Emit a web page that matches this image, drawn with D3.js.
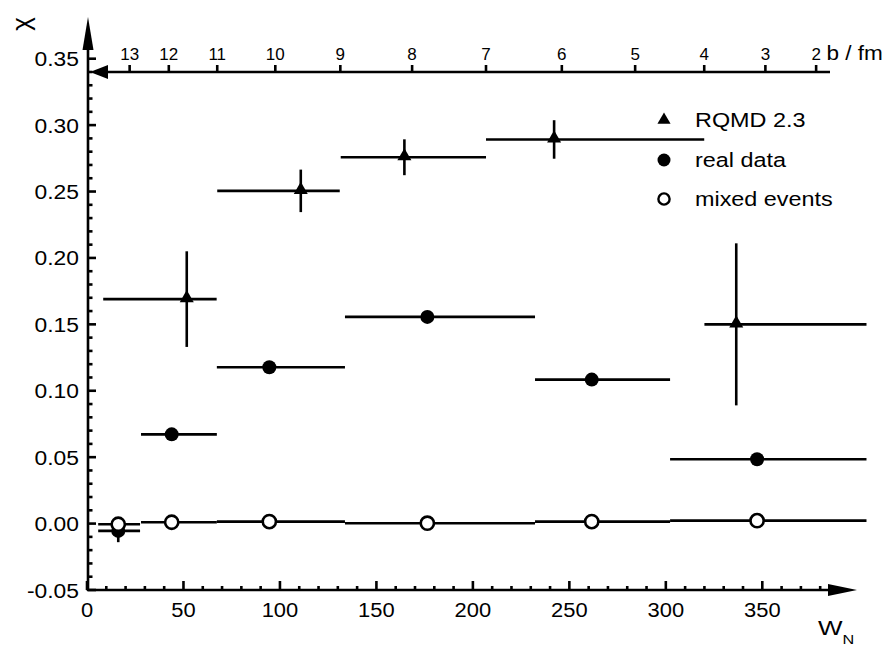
<!DOCTYPE html>
<html>
<head>
  <meta charset="UTF-8">
  <title>chi vs W_N</title>
  <script src="https://d3js.org/d3.v7.min.js"></script>
  <style>
    body { margin: 0; background: white; }
    text { font-family: "Liberation Sans", Arial, sans-serif; fill: black; }
  </style>
</head>
<body>
<svg></svg>
<script>
  let width = 886,
    height = 648;

  // RQMD 2.3 (triangles)
  let rqmdW = [51.7, 110.8, 164.5, 242.1, 336.5];
  let rqmdLo = [8.4, 67.5, 131.5, 206.8, 320.0];
  let rqmdHi = [67.2, 131.0, 206.8, 319.9, 404.0];
  let rqmdChi = [0.169, 0.2505, 0.2758, 0.2892, 0.150];
  let rqmdErr = [0.036, 0.016, 0.0135, 0.0145, 0.061];

  // real data (filled circles)
  let realW = [16.2, 43.9, 94.5, 176.4, 261.6, 347.3];
  let realLo = [5.8, 28.0, 67.3, 133.7, 232.2, 302.2];
  let realHi = [27.5, 67.3, 133.7, 232.2, 302.2, 404.0];
  let realChi = [-0.0055, 0.0672, 0.1177, 0.1556, 0.1084, 0.0484];
  let realErr = [0.0085, 0.003, 0.002, 0.002, 0.002, 0.002];

  // mixed events (open circles)
  let mixW = realW;
  let mixChi = [-0.0005, 0.001, 0.0015, 0.0003, 0.0015, 0.0022];

  // impact parameter axis: b values and where they sit on W_N
  let bTicks = [13, 12, 11, 10, 9, 8, 7, 6, 5, 4, 3, 2];
  let bTickW = [22.1, 42.4, 67.5, 97.6, 131.3, 168.5, 206.8, 246.1, 284.1, 319.9, 351.6, 377.9];

  let xTicks = [0, 50, 100, 150, 200, 250, 300, 350];
  let yTicks = [-0.05, 0.00, 0.05, 0.10, 0.15, 0.20, 0.25, 0.30, 0.35];

  let legendItems = ["RQMD 2.3", "real data", "mixed events"];

  let svg = d3.select("svg")
    .attr("width", width)
    .attr("height", height);

  let x = d3.scaleLinear().domain([0, 350]).range([87, 762.3]);
  let y = d3.scaleLinear().domain([-0.05, 0.35]).range([590, 58.7]);

  let axisX = 88, axisY = 590, topY = 72;
  let lw = 2.6;

  // the original lettering is a bit wider than Liberation Sans, so stretch it
  function label(sel, px, py, size, stretch) {
    return sel
      .attr("transform", (d, i) => `translate(${px(d, i)},${py(d, i)}) scale(${stretch},1)`)
      .attr("font-size", size);
  }

  // ---- axes ----
  let ax = svg.append("g").attr("stroke", "black").attr("stroke-width", lw);
  ax.append("line").attr("x1", axisX).attr("x2", axisX).attr("y1", axisY + 1).attr("y2", 45);
  ax.append("line").attr("x1", axisX - 1).attr("x2", 832).attr("y1", axisY).attr("y2", axisY);
  ax.append("line").attr("x1", 100).attr("x2", 830).attr("y1", topY).attr("y2", topY);

  let arrows = svg.append("g").attr("fill", "black");
  arrows.append("path").attr("d", `M${axisX},17 L${axisX - 5.5},50 L${axisX + 5.5},50 Z`);
  arrows.append("path").attr("d", `M857,${axisY} L828,${axisY - 6} L828,${axisY + 6} Z`);
  arrows.append("path").attr("d", `M90,${topY} L108,${topY - 7} L108,${topY + 7} Z`);

  // y ticks (inside, to the right)
  let yMinor = d3.range(-0.05, 0.3501, 0.01);
  ax.selectAll(".ymin").data(yMinor).enter().append("line")
    .attr("x1", axisX).attr("x2", d => Math.abs(Math.round(d * 100) % 5) === 0 ? axisX + 8 : axisX + 4.5)
    .attr("y1", d => y(d)).attr("y2", d => y(d));

  // x ticks (inside, pointing up)
  let xMinor = d3.range(0, 381, 10);
  ax.selectAll(".xmin").data(xMinor).enter().append("line")
    .attr("x1", d => x(d)).attr("x2", d => x(d))
    .attr("y1", axisY).attr("y2", d => d % 50 === 0 ? axisY - 9 : axisY - 4);

  // top b ticks
  ax.selectAll(".btick").data(bTickW).enter().append("line")
    .attr("x1", d => x(d)).attr("x2", d => x(d))
    .attr("y1", topY).attr("y2", topY - 7);

  // tick labels
  label(svg.selectAll(".ylab").data(yTicks).enter().append("text"),
      d => 79, d => y(d) + 7.5, 19.5, 1.17)
    .attr("text-anchor", "end")
    .text(d => d.toFixed(2));

  label(svg.selectAll(".xlab").data(xTicks).enter().append("text"),
      d => x(d), d => 616.5, 20.5, 1.07)
    .attr("text-anchor", "middle")
    .text(d => d);

  label(svg.selectAll(".blab").data(bTicks).enter().append("text"),
      (d, i) => x(bTickW[i]), d => 60, 17, 1)
    .attr("text-anchor", "middle")
    .text(d => d);

  label(svg.append("text").datum(0), d => 826.5, d => 60, 20.5, 1.1).text("b / fm");

  let wl = label(svg.append("text").datum(0), d => 818, d => 635, 20, 1.3);
  wl.append("tspan").text("W");
  wl.append("tspan").attr("font-size", 12.5).attr("dy", 8.5).text("N");

  svg.append("text").attr("transform", "translate(22,24) rotate(-90)")
    .attr("text-anchor", "middle").attr("font-size", 26).attr("dy", "0.3em").text("χ");

  // ---- data ----
  let marks = svg.append("g").attr("stroke", "black").attr("stroke-width", lw);

  // real data bars
  marks.selectAll(".rh").data(realW).enter().append("line")
    .attr("x1", (d, i) => x(realLo[i])).attr("x2", (d, i) => x(realHi[i]))
    .attr("y1", (d, i) => y(realChi[i])).attr("y2", (d, i) => y(realChi[i]));
  marks.selectAll(".rv").data(realW).enter().append("line")
    .attr("x1", d => x(d)).attr("x2", d => x(d))
    .attr("y1", (d, i) => y(realChi[i] - realErr[i])).attr("y2", (d, i) => y(realChi[i] + realErr[i]));

  // mixed events bars
  marks.selectAll(".mh").data(mixW).enter().append("line")
    .attr("x1", (d, i) => x(realLo[i])).attr("x2", (d, i) => x(realHi[i]))
    .attr("y1", (d, i) => y(mixChi[i])).attr("y2", (d, i) => y(mixChi[i]));

  // RQMD bars
  marks.selectAll(".qh").data(rqmdW).enter().append("line")
    .attr("x1", (d, i) => x(rqmdLo[i])).attr("x2", (d, i) => x(rqmdHi[i]))
    .attr("y1", (d, i) => y(rqmdChi[i])).attr("y2", (d, i) => y(rqmdChi[i]));
  marks.selectAll(".qv").data(rqmdW).enter().append("line")
    .attr("x1", d => x(d)).attr("x2", d => x(d))
    .attr("y1", (d, i) => y(rqmdChi[i] - rqmdErr[i])).attr("y2", (d, i) => y(rqmdChi[i] + rqmdErr[i]));

  let tri = d3.symbol().type(d3.symbolTriangle).size(85);

  svg.append("g").selectAll("path").data(rqmdW).enter().append("path")
    .attr("d", tri)
    .attr("transform", (d, i) => `translate(${x(d)},${y(rqmdChi[i]) - 1})`)
    .attr("fill", "black");

  svg.append("g").selectAll("circle").data(realW).enter().append("circle")
    .attr("cx", d => x(d)).attr("cy", (d, i) => y(realChi[i]))
    .attr("r", 7).attr("fill", "black");

  svg.append("g").selectAll("circle").data(mixW).enter().append("circle")
    .attr("cx", d => x(d)).attr("cy", (d, i) => y(mixChi[i]))
    .attr("r", 6.6).attr("fill", "white").attr("stroke", "black").attr("stroke-width", 2.6);

  // ---- legend ----
  let leg = svg.append("g");
  let legY = [120, 160, 199];
  leg.append("path").attr("d", d3.symbol().type(d3.symbolTriangle).size(75))
    .attr("transform", `translate(664,${legY[0]})`).attr("fill", "black");
  leg.append("circle").attr("cx", 664).attr("cy", legY[1]).attr("r", 6.5).attr("fill", "black");
  leg.append("circle").attr("cx", 664).attr("cy", legY[2]).attr("r", 5.6)
    .attr("fill", "white").attr("stroke", "black").attr("stroke-width", 2.4);
  label(leg.selectAll("text").data(legendItems).enter().append("text"),
      d => 695, (d, i) => legY[i] + 7, 19.5, 1.2)
    .text(d => d);
</script>
</body>
</html>
